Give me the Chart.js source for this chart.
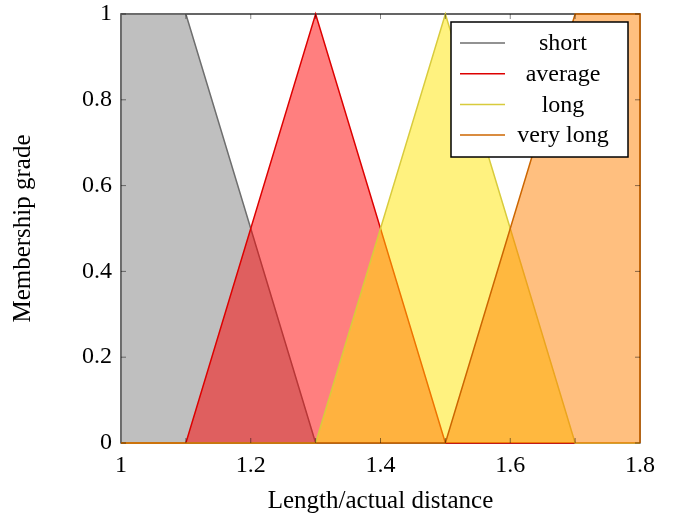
<!DOCTYPE html>
<html>
<head>
<meta charset="utf-8">
<script src="https://cdn.jsdelivr.net/npm/chart.js@4"></script>
<style>
  body { margin: 0; background: #fff; }
  #box { width: 681px; height: 520px; }
</style>
</head>
<body>
<div id="box"><canvas id="gradeChart" width="681" height="520"></canvas></div>
<script>
// Membership functions (x = length / actual distance, y = membership grade)
var labels = ['short', 'average', 'long', 'very long'];
var shortX = [1, 1, 1.1, 1.3, 1.8];
var shortY = [0, 1, 1, 0, 0];
var averageX = [1, 1.1, 1.3, 1.5, 1.8];
var averageY = [0, 0, 1, 0, 0];
var longX = [1, 1.3, 1.5, 1.7, 1.8];
var longY = [0, 0, 1, 0, 0];
var veryLongX = [1, 1.5, 1.7, 1.8, 1.8];
var veryLongY = [0, 0, 1, 1, 0];

var xTicks = [1, 1.2, 1.4, 1.6, 1.8];
var yTicks = [0, 0.2, 0.4, 0.6, 0.8, 1];

function points(xs, ys) {
    return xs.map(function (x, i) { return { x: x, y: ys[i] }; });
}

var lineColors = ['#6e6e6e', '#dd0000', '#d8cb3c', '#cc6600'];
var fillColors = ['rgba(128,128,128,0.5)', 'rgba(255,0,0,0.5)', 'rgba(255,230,0,0.5)', 'rgba(255,128,0,0.5)'];
var seriesData = [points(shortX, shortY), points(averageX, averageY), points(longX, longY), points(veryLongX, veryLongY)];

var tickFont = { family: 'Liberation Serif', size: 24 };
var titleFont = { family: 'Liberation Serif', size: 25 };

// frame + inward ticks + legend box, pgfplots style
var framePlugin = {
    id: 'frame',
    beforeDatasetsDraw: function (chart) {
        var a = chart.chartArea, c = chart.ctx;
        c.save();
        c.strokeStyle = '#000';
        c.lineWidth = 1.2;
        c.strokeRect(a.left, a.top, a.right - a.left, a.bottom - a.top);
        c.restore();
    },
    afterDatasetsDraw: function (chart) {
        var a = chart.chartArea, c = chart.ctx;
        var xs = chart.scales.x, ys = chart.scales.y;
        c.save();
        c.strokeStyle = 'rgba(0,0,0,0.6)';
        c.lineWidth = 0.8;
        for (var i = 1; i < 8; i++) {
            var px = xs.getPixelForValue(1 + i / 10);
            c.beginPath();
            c.moveTo(px, a.bottom); c.lineTo(px, a.bottom - 5);
            c.moveTo(px, a.top); c.lineTo(px, a.top + 5);
            c.stroke();
        }
        yTicks.forEach(function (v) {
            var py = ys.getPixelForValue(v);
            c.beginPath();
            c.moveTo(a.left, py); c.lineTo(a.left + 5, py);
            c.moveTo(a.right, py); c.lineTo(a.right - 5, py);
            c.stroke();
        });

        // legend
        var bx = a.right - 189, by = a.top + 8, bw = 177, bh = 135;
        c.fillStyle = '#fff';
        c.fillRect(bx, by, bw, bh);
        c.strokeStyle = '#000';
        c.lineWidth = 1.5;
        c.strokeRect(bx, by, bw, bh);
        c.font = '24px "Liberation Serif"';
        c.textAlign = 'center';
        c.textBaseline = 'middle';
        chart.data.datasets.forEach(function (ds, i) {
            var ly = by + 21 + i * 30.7;
            c.strokeStyle = ds.borderColor;
            c.lineWidth = 1.5;
            c.beginPath();
            c.moveTo(bx + 9, ly); c.lineTo(bx + 54, ly);
            c.stroke();
            c.fillStyle = '#000';
            c.fillText(ds.label, bx + 112, ly + 1);
        });
        c.restore();
    }
};

var ctx = document.getElementById('gradeChart').getContext('2d');
var gradeChart = new Chart(ctx, {
    type: 'line',
    data: {
        datasets: labels.map(function (name, i) {
            return {
                label: name,
                data: seriesData[i],
                borderColor: lineColors[i],
                backgroundColor: fillColors[i],
                borderWidth: 1.5,
                pointRadius: 0,
                tension: 0,
                fill: 'origin',
                clip: 3,
                order: 4 - i
            };
        })
    },
    options: {
        responsive: false,
        animation: false,
        layout: { padding: { left: 0, right: 41, top: 14, bottom: 0 } },
        plugins: { legend: { display: false }, tooltip: { enabled: false } },
        scales: {
            x: {
                type: 'linear',
                min: 1, max: 1.8,
                afterBuildTicks: function (s) { s.ticks = xTicks.map(function (v) { return { value: v }; }); },
                afterFit: function (s) { s.height = 77; s.paddingLeft = 0; s.paddingRight = 0; },
                grid: { display: false, drawTicks: false, tickLength: 0 },
                border: { display: false },
                ticks: {
                    color: '#000', font: tickFont, padding: 8, maxRotation: 0,
                    callback: function (v) { return String(Number(v.toFixed(1))); }
                },
                title: { display: true, text: 'Length/actual distance', color: '#000', font: titleFont, padding: { top: 4 } }
            },
            y: {
                min: 0, max: 1,
                afterBuildTicks: function (s) { s.ticks = yTicks.map(function (v) { return { value: v }; }); },
                afterFit: function (s) { s.width = 121; s.paddingTop = 0; s.paddingBottom = 0; },
                grid: { display: false, drawTicks: false, tickLength: 0 },
                border: { display: false },
                ticks: {
                    color: '#000', font: tickFont, padding: 9,
                    callback: function (v) { return String(Number(v.toFixed(1))); }
                },
                title: { display: true, text: 'Membership grade', color: '#000', font: titleFont, padding: { bottom: 0, top: 8 } }
            }
        }
    },
    plugins: [framePlugin]
});
</script>
</body>
</html>
